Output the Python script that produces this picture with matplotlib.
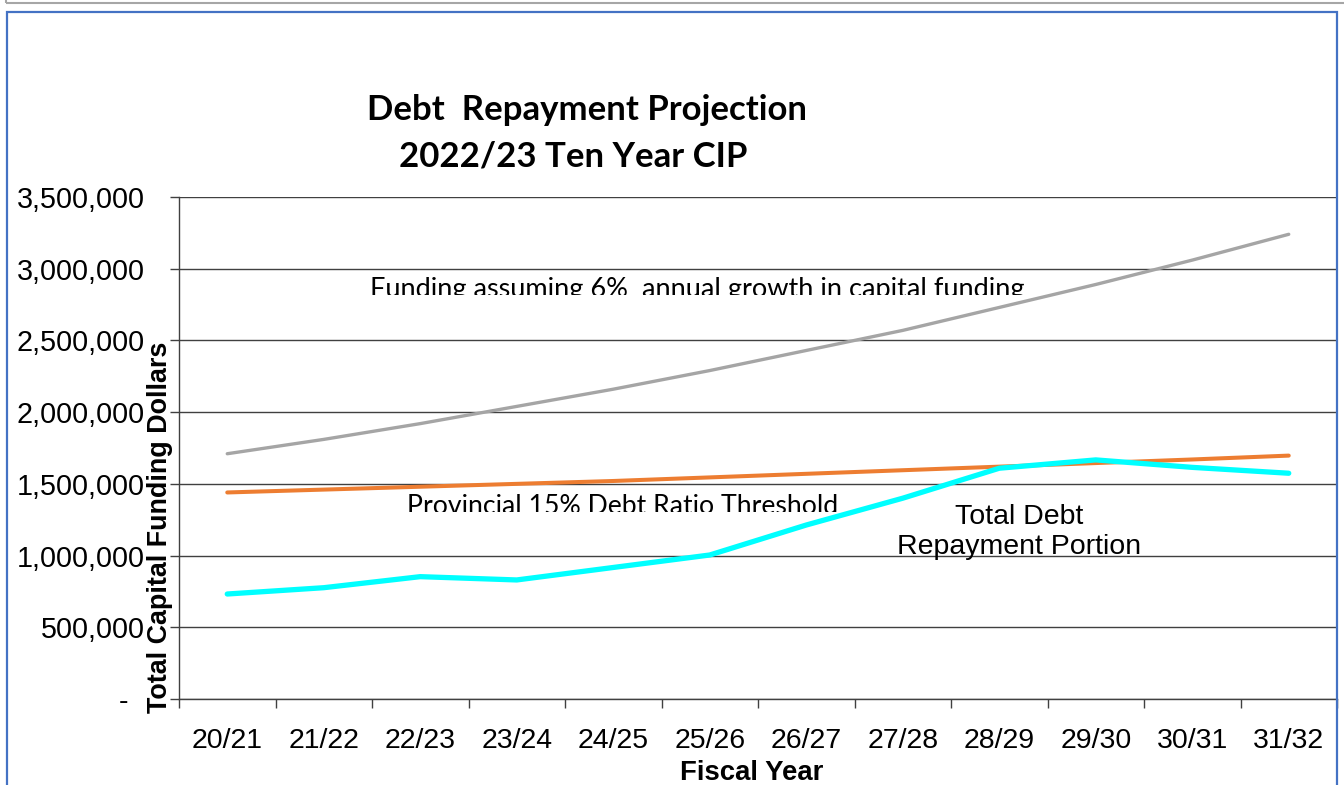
import numpy as np
import matplotlib
matplotlib.use('Agg')
from matplotlib import pyplot as plt
from matplotlib.patches import Rectangle
from matplotlib.transforms import Bbox, TransformedBbox
from matplotlib.ticker import FixedLocator, FuncFormatter

# fiscal years on the x axis
years = ['20/21', '21/22', '22/23', '23/24', '24/25', '25/26',
         '26/27', '27/28', '28/29', '29/30', '30/31', '31/32']

# funding with 6% annual growth
funding_growth = [1710000, 1810000, 1920000, 2040000, 2160000, 2290000,
                  2430000, 2570000, 2730000, 2890000, 3060000, 3240000]

# provincial 15% debt ratio threshold
debt_threshold = [1440000, 1460000, 1480000, 1500000, 1520000, 1545000,
                  1570000, 1595000, 1620000, 1645000, 1670000, 1697000]

# total debt repayment portion
debt_repayment = [732000, 776000, 853000, 830000, 917000, 1004000,
                  1213000, 1400000, 1609000, 1667000, 1615000, 1574000]

y_ticks = [0, 500000, 1000000, 1500000, 2000000, 2500000, 3000000, 3500000]

W, H = 1344, 785
ARIAL = 'Liberation Sans'
CALIBRI = 'Lato'


def fmt_y(v, pos):
    if v == 0:
        return '-  '
    return '{:,.0f}'.format(v)


def clipped_text(ax, x, y, s, y_cut, **kw):
    # text whose lower part (below y_cut, in data units) is cut away
    t = ax.text(x, y, s, **kw)
    box = TransformedBbox(Bbox([[-0.5, y_cut], [11.5, 3500000]]), ax.transData)
    t.set_clip_box(box)
    t.set_clip_on(True)
    return t


def main():
    fig = plt.figure(figsize=(W / 100, H / 100), dpi=100)
    fig.patch.set_facecolor('white')

    # outer frames
    fig.patches.append(Rectangle((6 / W, 1 - 3 / H), 1.0, 0.2, transform=fig.transFigure,
                                 fill=False, edgecolor='#a6a6a6', lw=1.5))
    fig.patches.append(Rectangle((7 / W, -0.1), (1337 - 7) / W, 1.1 - 12 / H, transform=fig.transFigure,
                                 fill=False, edgecolor='#4472c4', lw=1.6))

    ax = fig.add_axes([179 / W, 1 - 699 / H, (1337 - 179) / W, (699 - 197) / H])
    x = np.arange(len(years))

    ax.plot(x, funding_growth, color='#a5a5a5', lw=2.4, solid_capstyle='round')
    ax.plot(x, debt_threshold, color='#ed7d31', lw=2.9, solid_capstyle='round')
    ax.plot(x, debt_repayment, color='#00ffff', lw=3.8, solid_capstyle='round')

    ax.set_xlim(-0.5, len(years) - 0.5)
    ax.set_ylim(0, 3500000)

    ax.set_yticks(y_ticks)
    ax.yaxis.set_major_formatter(FuncFormatter(fmt_y))
    ax.yaxis.grid(True, color='#404040', lw=1.0)
    ax.set_axisbelow(True)
    ax.tick_params(axis='y', length=6.5, width=1, color='#404040', pad=18, labelsize=20.7)
    for lbl in ax.get_yticklabels():
        lbl.set_fontfamily(ARIAL)

    ax.set_xticks(x)
    ax.set_xticklabels(years, fontfamily=ARIAL, fontsize=20.5)
    ax.xaxis.set_minor_locator(FixedLocator(np.arange(-0.5, len(years) + 0.5, 1)))
    ax.tick_params(axis='x', which='major', length=0, pad=21)
    ax.tick_params(axis='x', which='minor', length=6.5, width=1, color='#404040')

    for side in ['top', 'right']:
        ax.spines[side].set_visible(False)
    for side in ['left', 'bottom']:
        ax.spines[side].set_color('#404040')
        ax.spines[side].set_linewidth(1.0)

    # series labels, cut off along the bottom edge
    clipped_text(ax, 4.87, 2800000, 'Funding assuming 6%  annual growth in capital funding', 2820000,
                 fontfamily=CALIBRI, fontsize=19.5, ha='center', va='baseline')
    clipped_text(ax, 4.10, 1290000, 'Provincial 15% Debt Ratio Threshold', 1304000,
                 fontfamily=CALIBRI, fontsize=19.2, ha='center', va='baseline')

    ax.text(8.21, 1165000, 'Total Debt\nRepayment Portion', fontfamily=ARIAL, fontsize=20.5,
            ha='center', va='center', multialignment='center', linespacing=1.2)

    ax.text(-19 / 1158, 0.343, 'Total Capital Funding Dollars', transform=ax.transAxes,
            rotation=90, ha='center', va='center', fontfamily=ARIAL, fontweight='bold', fontsize=19.4)

    fig.text(752 / W, 1 - 773 / H, 'Fiscal Year', ha='center', va='center',
             fontfamily=ARIAL, fontweight='bold', fontsize=19.8)

    fig.text(587 / W, 1 - 110 / H, 'Debt  Repayment Projection', ha='center', va='center',
             fontfamily=CALIBRI, fontweight='bold', fontsize=25)
    fig.text(573 / W, 1 - 157 / H, '2022/23 Ten Year CIP', ha='center', va='center',
             fontfamily=CALIBRI, fontweight='bold', fontsize=25)

    fig.savefig('out.png', dpi=100)
    plt.close(fig)


if __name__ == '__main__':
    main()
